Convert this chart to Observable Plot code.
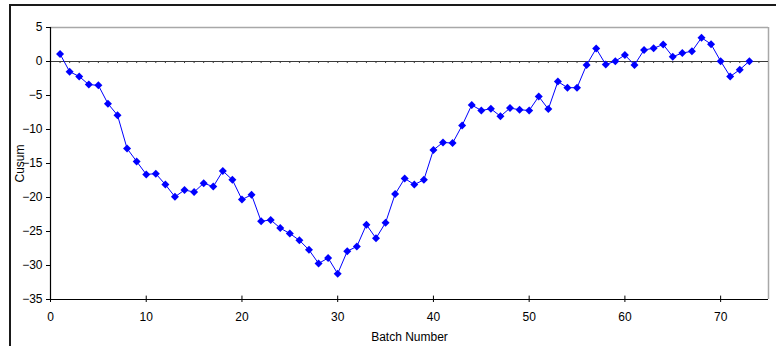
<!DOCTYPE html>
<html>
<head>
<meta charset="utf-8">
<script src="https://cdn.jsdelivr.net/npm/d3@7"></script>
<script src="https://cdn.jsdelivr.net/npm/@observablehq/plot@0.6"></script>
<style>
html, body { margin: 0; padding: 0; background: #fff; overflow: hidden; }
#wrap { position: relative; width: 776px; height: 346px; overflow: hidden; }
#frame { position: absolute; left: 9px; top: 4px; width: 900px; height: 500px; border: 2px solid #1a1a1a; box-sizing: border-box; pointer-events: none; }
#chart { position: absolute; left: 0; top: 0; }
</style>
</head>
<body>
<div id="wrap"><div id="frame"></div><div id="chart"></div></div>
<script>
const batches = [1,2,3,4,5,6,7,8,9,10,11,12,13,14,15,16,17,18,19,20,21,22,23,24,25,26,27,28,29,30,31,32,33,34,35,36,37,38,39,40,41,42,43,44,45,46,47,48,49,50,51,52,53,54,55,56,57,58,59,60,61,62,63,64,65,66,67,68,69,70,71,72,73];
const cusum = [
  1.1, -1.5, -2.2, -3.4, -3.5, -6.2, -7.9, -12.8, -14.7, -16.6,
  -16.5, -18.1, -19.9, -18.9, -19.2, -17.9, -18.4, -16.1, -17.4, -20.3,
  -19.6, -23.5, -23.3, -24.5, -25.3, -26.3, -27.7, -29.7, -28.9, -31.2,
  -27.9, -27.2, -24.0, -26.0, -23.7, -19.5, -17.2, -18.1, -17.4, -13.0,
  -11.9, -12.0, -9.4, -6.4, -7.2, -6.95, -8.05, -6.85, -7.1, -7.2,
  -5.15, -7.0, -2.95, -3.85, -3.85, -0.5, 1.9, -0.45, 0.05, 0.95,
  -0.5, 1.7, 1.95, 2.5, 0.7, 1.25, 1.5, 3.5, 2.55, 0.05,
  -2.2, -1.2, 0.05
];
const xTicks = [0, 10, 20, 30, 40, 50, 60, 70];
const yTicks = [-35, -30, -25, -20, -15, -10, -5, 0, 5];
const xDomain = [0, 75];
const yDomain = [-35, 5];
const xTitle = "Batch Number";
const yTitle = "Cusum";

const data = batches.map((b, i) => ({batch: b, cusum: cusum[i]}));
const minorTicks = d3.range(1, 75);

const chart = Plot.plot({
  width: 776,
  height: 346,
  marginLeft: 50,
  marginRight: 8,
  marginTop: 27,
  marginBottom: 47,
  style: {fontFamily: '"Liberation Sans", Arial, sans-serif', fontSize: "12px", color: "#000", background: "transparent"},
  x: {domain: xDomain},
  y: {domain: yDomain},
  marks: [
    Plot.ruleY([yDomain[1]], {stroke: "#a8a8a8", strokeWidth: 1.5}),
    Plot.ruleX([xDomain[1]], {stroke: "#a8a8a8", strokeWidth: 1.5}),
    Plot.ruleY([0], {stroke: "#3a3a3a", strokeWidth: 1.2}),
    Plot.ruleX(minorTicks, {x: d => d, y1: 0, y2: -0.3, stroke: "#3a3a3a", strokeWidth: 1}),
    Plot.axisY({ticks: yTicks, tickSize: 4, tickPadding: 4, label: null, stroke: "#000", fontSize: 12}),
    Plot.axisX({ticks: xTicks, tickSize: 3, tickPadding: 10, label: null, stroke: "#000", fontSize: 12}),
    Plot.ruleX(xTicks, {x: d => d, y1: yDomain[0], y2: yDomain[0] + 0.5, stroke: "#000"}),
    Plot.ruleX([xDomain[0]], {stroke: "#000", strokeWidth: 1.2}),
    Plot.ruleY([yDomain[0]], {stroke: "#000", strokeWidth: 1.2}),
    Plot.text([yTitle], {frameAnchor: "left", dx: -30, rotate: -90, textAnchor: "middle", lineAnchor: "middle", fontSize: 12, fill: "#000"}),
    Plot.text([xTitle], {frameAnchor: "bottom", dy: 38, textAnchor: "middle", lineAnchor: "middle", fontSize: 12, fill: "#000"}),
    Plot.line(data, {x: "batch", y: "cusum", stroke: "#0000ff", strokeWidth: 1}),
    Plot.dot(data, {x: "batch", y: "cusum", symbol: "diamond2", r: 3.6, fill: "#0000ff", stroke: "none"})
  ]
});
document.getElementById("chart").appendChild(chart);
</script>
</body>
</html>
